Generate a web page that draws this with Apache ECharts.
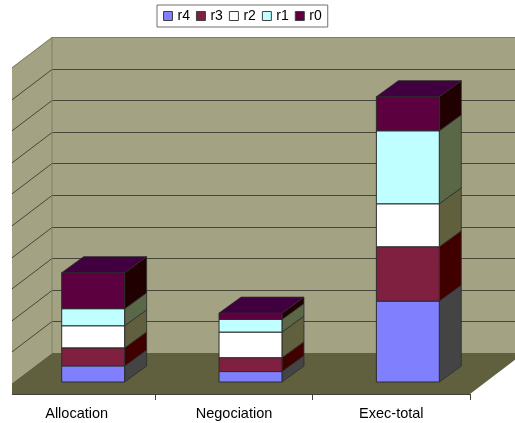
<!DOCTYPE html>
<html><head><meta charset="utf-8">
<style>html,body{margin:0;padding:0;background:#fff}#c{width:515px;height:423px}</style>
<script src="https://cdn.jsdelivr.net/npm/echarts@6/dist/echarts.min.js"></script>
</head><body><div id="c"></div>
<script>
const categories = ['Allocation', 'Negociation', 'Exec-total'];
const r4 = [5.1, 3.3, 25.6];
const r3 = [5.7, 4.4, 17.2];
const r2 = [7.0, 8.1, 13.6];
const r1 = [5.4, 4.0, 23.1];
const r0 = [11.4, 2.0, 10.8];
const yTicks = [0, 10, 20, 30, 40, 50, 60, 70, 80, 90, 100];
const seriesNames = ['r4', 'r3', 'r2', 'r1', 'r0'];
const seriesValues = [r4, r3, r2, r1, r0];
const frontColors = ['#8080ff', '#7f2040', '#ffffff', '#bfffff', '#5c0040'];
const sideColors = ['#444444', '#400000', '#60603f', '#5a6848', '#200000'];
const topColor = '#400040';
const lineDark = '#2c2c2c';

const wallDX = 54, wallDY = -41, barOffX = 16.5, barOffY = -12, barDX = 22, barDY = -16;
const barRatio = 0.4, clipLeft = 12;

function poly(pts, fill, stroke, lw) {
  return { type: 'polygon', shape: { points: pts }, style: { fill: fill, stroke: stroke || null, lineWidth: lw || 0 } };
}
function line(a, b, color, w) {
  return { type: 'line', shape: { x1: a[0], y1: a[1], x2: b[0], y2: b[1] }, style: { stroke: color, lineWidth: w || 1, fill: null } };
}
// where a wall-depth edge starting at the front plane crosses the visible left edge
function clipped(p) {
  const t = (clipLeft - p[0]) / wallDX;
  return [clipLeft, p[1] + wallDY * t];
}
function renderRoom(params, api) {
  const band = api.size([1, 0])[0];
  const x0 = api.coord([0, 0])[0] - band / 2;
  const x1 = api.coord([categories.length - 1, 0])[0] + band / 2;
  const y0 = api.coord([0, 0])[1];
  const yT = api.coord([0, yTicks[yTicks.length - 1]])[1];
  const wallC = '#a3a384', edge = '#7f7f60', floorC = '#60603f';
  const kids = [];
  const pFront0 = [x0, y0], pFrontT = [x0, yT];
  kids.push(poly([[x0 + wallDX, yT + wallDY], [x1 + wallDX, yT + wallDY], [x1 + wallDX, y0 + wallDY], [x0 + wallDX, y0 + wallDY]], wallC));
  kids.push(poly([clipped(pFrontT), [x0 + wallDX, yT + wallDY], [x0 + wallDX, y0 + wallDY], clipped(pFront0)], wallC));
  kids.push(poly([clipped(pFront0), [x0 + wallDX, y0 + wallDY], [x1 + wallDX, y0 + wallDY], [x1, y0], [clipLeft, y0]], floorC));
  yTicks.forEach(function (t, i) {
    if (i === 0) return;
    const y = Math.round(api.coord([0, t])[1]) + 0.5;
    const last = i === yTicks.length - 1;
    const c = last ? edge : '#46463a';
    kids.push(line(clipped([x0, y]), [x0 + wallDX, y + wallDY], c, 1));
    kids.push(line([x0 + wallDX, y + wallDY], [x1 + wallDX, y + wallDY], c, 1));
  });
  kids.push(line([x0 + wallDX, yT + wallDY], [x0 + wallDX, y0 + wallDY], edge, 1));
  kids.push(line([clipLeft, y0 + 0.5], [x1, y0 + 0.5], '#404040', 1));
  return { type: 'group', silent: true, children: kids };
}
function renderSeg(params, api) {
  const s = params.seriesIndex - 1;
  const cat = api.value(0), lo = api.value(1), hi = api.value(2);
  const band = api.size([1, 0])[0], w = band * barRatio;
  const cx = api.coord([cat, 0])[0] + barOffX;
  const l = cx - w / 2, r = cx + w / 2;
  const yb = api.coord([cat, lo])[1] + barOffY, yt = api.coord([cat, hi])[1] + barOffY;
  const kids = [];
  kids.push(poly([[r, yb], [r + barDX, yb + barDY], [r + barDX, yt + barDY], [r, yt]], sideColors[s], lineDark, 0.8));
  kids.push(poly([[l, yb], [r, yb], [r, yt], [l, yt]], frontColors[s], lineDark, 1));
  if (s === seriesNames.length - 1) {
    kids.push(poly([[l, yt], [r, yt], [r + barDX, yt + barDY], [l + barDX, yt + barDY]], topColor, lineDark, 0.8));
  }
  return { type: 'group', children: kids };
}

const cum = categories.map(function () { return 0; });
const barSeries = seriesNames.map(function (name, i) {
  const data = categories.map(function (c, k) {
    const lo = cum[k]; cum[k] += seriesValues[i][k];
    return [k, lo, cum[k]];
  });
  return {
    name: name, type: 'custom', renderItem: renderSeg, data: data, z: 5,
    encode: { x: 0, y: [1, 2] }, clip: false,
    itemStyle: { color: frontColors[i] }
  };
});

const chart = echarts.init(document.getElementById('c'), null, { renderer: 'canvas' });
chart.setOption({
  animation: false,
  backgroundColor: '#ffffff',
  textStyle: { fontFamily: '"Liberation Sans", Arial, sans-serif' },
  grid: { left: -2, right: 45, top: 78, bottom: 29, outerBoundsMode: 'none' },
  legend: {
    data: seriesNames, left: 157, top: 5, orient: 'horizontal',
    itemWidth: 9, itemHeight: 9, itemGap: 6, icon: 'rect', padding: [4, 6, 4, 6],
    borderColor: '#707070', borderWidth: 1, backgroundColor: '#ffffff',
    itemStyle: { borderColor: '#404040', borderWidth: 1 },
    textStyle: { fontFamily: '"Liberation Sans", Arial, sans-serif', fontSize: 14, color: '#000' },
    selectedMode: false
  },
  xAxis: {
    type: 'category', data: categories, boundaryGap: true,
    axisLine: { show: false },
    axisTick: { show: true, length: 6, inside: false, lineStyle: { color: '#404040' } },
    axisLabel: { color: '#000', fontSize: 14.5, margin: 12, interval: 0, fontFamily: '"Liberation Sans", Arial, sans-serif' }
  },
  yAxis: {
    type: 'value', min: 0, max: 100, interval: 10,
    axisLine: { show: false }, axisTick: { show: false }, axisLabel: { show: false }, splitLine: { show: false }
  },
  series: [{ type: 'custom', renderItem: renderRoom, data: [[0, 0]], z: 1, silent: true, clip: false, legendHoverLink: false }].concat(barSeries)
});
</script></body></html>
